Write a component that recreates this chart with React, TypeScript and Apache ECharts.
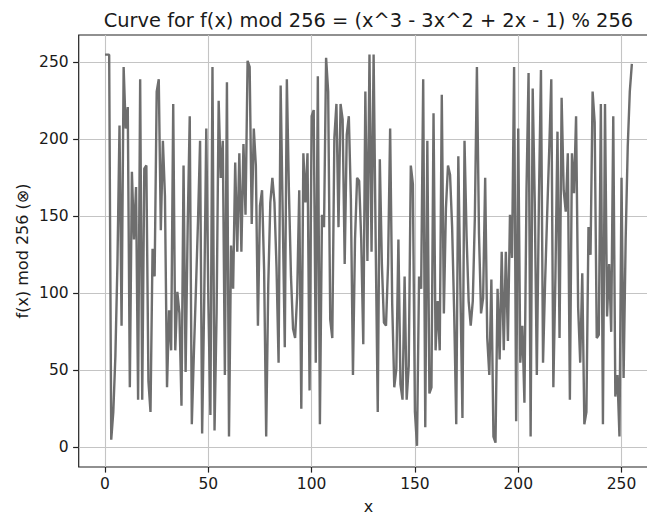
import React, { useEffect, useRef } from "react";
import * as echarts from "echarts";

const titleText = "Curve for f(x) mod 256 = (x^3 - 3x^2 + 2x - 1) % 256";
const xLabel = "x";
const yLabel = "f(x) mod 256 (⊗)";

const xTicks = [0, 50, 100, 150, 200, 250];
const yTicks = [0, 50, 100, 150, 200, 250];

// f(x) mod 256 for x = 0 .. 255
const fValues = [
  255,
  255, 255, 5, 23, 59, 119, 209, 79, 247, 207, 221, 39, 179, 135, 169, 31,
  239, 31, 181, 183, 43, 23, 129, 111, 231, 239, 141, 199, 163, 39, 89, 63,
  223, 63, 101, 87, 27, 183, 49, 143, 215, 15, 61, 103, 147, 199, 9, 95,
  207, 95, 21, 247, 11, 87, 225, 175, 199, 47, 237, 7, 131, 103, 185, 127,
  191, 127, 197, 151, 251, 247, 145, 207, 183, 79, 157, 167, 115, 7, 105, 159,
  175, 159, 117, 55, 235, 151, 65, 239, 167, 111, 77, 71, 99, 167, 25, 191,
  159, 191, 37, 215, 219, 55, 241, 15, 151, 143, 253, 231, 83, 71, 201, 223,
  143, 223, 213, 119, 203, 215, 161, 47, 135, 175, 173, 135, 67, 231, 121, 255,
  127, 255, 133, 23, 187, 119, 81, 79, 119, 207, 93, 39, 51, 135, 41, 31,
  111, 31, 53, 183, 171, 23, 1, 111, 103, 239, 13, 199, 35, 39, 217, 63,
  95, 63, 229, 87, 155, 183, 177, 143, 87, 15, 189, 103, 19, 199, 137, 95,
  79, 95, 149, 247, 139, 87, 97, 175, 71, 47, 109, 7, 3, 103, 57, 127,
  63, 127, 69, 151, 123, 247, 17, 207, 55, 79, 29, 167, 243, 7, 233, 159,
  47, 159, 245, 55, 107, 151, 193, 239, 39, 111, 205, 71, 227, 167, 153, 191,
  31, 191, 165, 215, 91, 55, 113, 15, 23, 143, 125, 231, 211, 71, 73, 223,
  15, 223, 85, 119, 75, 215, 33, 47, 7, 175, 45, 135, 195, 231, 249,
];

const FONT = "DejaVu Sans";

export default function App() {
  const ref = useRef<HTMLDivElement>(null);

  useEffect(() => {
    if (!ref.current) return;
    const chart = echarts.init(ref.current, undefined, { renderer: "svg" });
    const GL = 78.7;
    const GT = 35;
    const GW = 579.5;
    const GH = 432;
    const axisCommon = {
      type: "value" as const,
      min: -12.75,
      max: 267.75,
      axisLine: { show: false, onZero: false },
      axisTick: {
        show: true,
        length: 5.6,
        lineStyle: { color: "#222", width: 1.2 },
      },
      splitLine: { show: true, lineStyle: { color: "#c4c4c4", width: 1.1 } },
      axisLabel: {
        color: "#1a1a1a",
        fontFamily: FONT,
        fontSize: 15.5,
        margin: 9,
      },
    };
    chart.setOption({
      animation: false,
      backgroundColor: "#ffffff",
      grid: {
        left: GL,
        top: GT,
        width: GW,
        height: GH,
        show: true,
        borderColor: "#222",
        borderWidth: 1.2,
        backgroundColor: "transparent",
        containLabel: false,
      },
      xAxis: {
        ...axisCommon,
        axisTick: { ...axisCommon.axisTick, customValues: xTicks },
        axisLabel: { ...axisCommon.axisLabel, customValues: xTicks },
      },
      yAxis: {
        ...axisCommon,
        axisTick: { ...axisCommon.axisTick, customValues: yTicks },
        axisLabel: { ...axisCommon.axisLabel, customValues: yTicks, margin: 10 },
      },
      graphic: [
        {
          type: "text",
          x: GL + GW / 2,
          y: 20,
          style: {
            text: titleText,
            fontFamily: FONT,
            fontSize: 19.4,
            fill: "#1a1a1a",
            textAlign: "center",
            textVerticalAlign: "middle",
          },
        },
        {
          type: "text",
          x: GL + GW / 2,
          y: 506,
          style: {
            text: xLabel,
            fontFamily: FONT,
            fontSize: 16,
            fill: "#1a1a1a",
            textAlign: "center",
            textVerticalAlign: "middle",
          },
        },
        {
          type: "text",
          x: 22,
          y: GT + GH / 2,
          rotation: Math.PI / 2,
          style: {
            text: yLabel,
            fontFamily: FONT,
            fontSize: 16,
            fill: "#1a1a1a",
            textAlign: "center",
            textVerticalAlign: "middle",
          },
        },
      ],
      series: [
        {
          type: "line",
          data: fValues.map((v, i) => [i, v]),
          showSymbol: false,
          symbol: "none",
          lineStyle: { color: "#6e6e6e", width: 2.4 },
          z: 3,
        },
      ],
    });
    return () => chart.dispose();
  }, []);

  return (
    <div
      style={{
        position: "absolute",
        left: 0,
        top: 0,
        width: 647,
        height: 516,
        overflow: "hidden",
        background: "#ffffff",
      }}
    >
      <div ref={ref} style={{ width: 690, height: 516 }} />
    </div>
  );
}
